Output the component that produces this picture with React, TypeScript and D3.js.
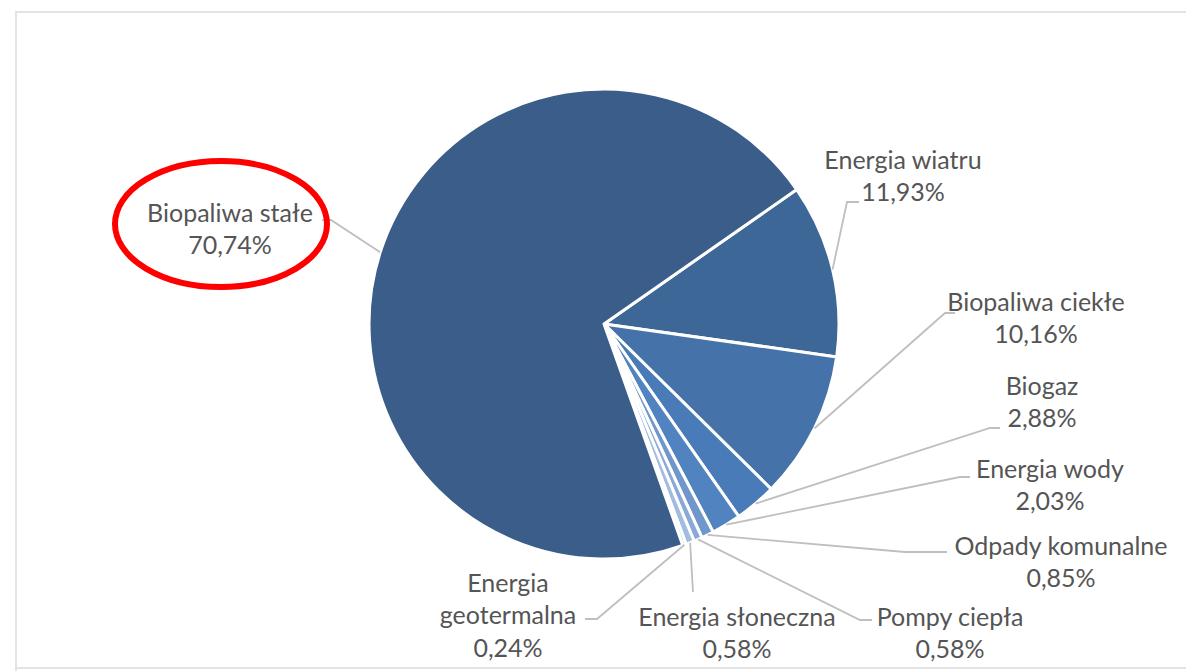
import React from "react";
import * as d3 from "d3";

// share of renewable energy sources (%)
const categories = [
  "Energia wiatru",
  "Biopaliwa ciekłe",
  "Biogaz",
  "Energia wody",
  "Odpady komunalne",
  "Pompy ciepła",
  "Energia słoneczna",
  "Energia geotermalna",
  "Biopaliwa stałe",
];
const values = [11.93, 10.16, 2.88, 2.03, 0.85, 0.58, 0.58, 0.24, 70.74];
const colors = [
  "#3d6797",
  "#4573a9",
  "#497bb8",
  "#5183c0",
  "#6f97cb",
  "#8aa9d6",
  "#a2bce0",
  "#bacde8",
  "#3a5e89",
];

// label layout: text lines, center x, first line middle y, elbow, end of leader
const labelLines = [
  ["Energia wiatru"],
  ["Biopaliwa ciekłe"],
  ["Biogaz"],
  ["Energia wody"],
  ["Odpady komunalne"],
  ["Pompy ciepła"],
  ["Energia słoneczna"],
  ["Energia", "geotermalna"],
  ["Biopaliwa stałe"],
];
const labelLayout = [
  { x: 903, y: 160, ex: 847, ey: 202, endX: 859 },
  { x: 1036, y: 302, ex: 945, ey: 313, endX: 955 },
  { x: 1042, y: 386, ex: 990, ey: 428, endX: 1000 },
  { x: 1050, y: 469, ex: 960, ey: 477, endX: 970 },
  { x: 1061, y: 546, ex: 905, ey: 552, endX: 947 },
  { x: 950, y: 617, ex: 860, ey: 620, endX: 872 },
  { x: 737, y: 617, ex: 693, ey: 592, endX: 693 },
  { x: 508, y: 583, ex: 597, ey: 619, endX: 585 },
  { x: 230, y: 213, ex: 331, ey: 220, endX: 322 },
];

const W = 1186;
const H = 671;
const cx = 604;
const cy = 324;
const R = 235;
const lineH = 32.5;

const fmt = (v: number) => v.toFixed(2).replace(".", ",") + "%";

export default function App() {
  const pie = d3
    .pie<number>()
    .sort(null)
    .value((d) => d)
    .startAngle((55.1 * Math.PI) / 180)
    .endAngle((55.1 * Math.PI) / 180 + 2 * Math.PI);
  const arcs = pie(values);
  const arc = d3.arc<d3.PieArcDatum<number>>().innerRadius(0).outerRadius(R);

  return (
    <svg
      width={W}
      height={H}
      style={{ position: "fixed", left: 0, top: 0, background: "#fff" }}
      fontFamily="Lato, 'Open Sans', sans-serif"
    >
      {/* frame */}
      <path
        d={`M16,${H} L16,12 L${W},12`}
        fill="none"
        stroke="#e3e3e3"
        strokeWidth={2}
      />
      <line x1={16} x2={W} y1={668} y2={668} stroke="#e3e3e3" strokeWidth={2} />

      <g transform={`translate(${cx},${cy})`}>
        {arcs.map((a, i) => (
          <path
            key={categories[i]}
            d={arc(a) || ""}
            fill={colors[i]}
            stroke="#fff"
            strokeWidth={3}
            strokeLinejoin="round"
          />
        ))}
      </g>

      {/* leader lines */}
      {arcs.map((a, i) => {
        const mid = (a.startAngle + a.endAngle) / 2;
        const px = cx + R * Math.sin(mid);
        const py = cy - R * Math.cos(mid);
        const L = labelLayout[i];
        return (
          <polyline
            key={"l" + i}
            points={`${px},${py} ${L.ex},${L.ey} ${L.endX},${L.ey}`}
            fill="none"
            stroke="#bfbfbf"
            strokeWidth={1.8}
          />
        );
      })}

      {/* labels */}
      {labelLayout.map((L, i) => {
        const lines = [...labelLines[i], fmt(values[i])];
        return (
          <text
            key={"t" + i}
            x={L.x}
            textAnchor="middle"
            fill="#555555"
            fontSize={25}
          >
            {lines.map((s, j) => (
              <tspan key={j} x={L.x} y={L.y + j * lineH} dy="0.35em">
                {s}
              </tspan>
            ))}
          </text>
        );
      })}

      {/* highlight */}
      <ellipse
        cx={221}
        cy={224}
        rx={106}
        ry={63}
        fill="none"
        stroke="#ff0000"
        strokeWidth={6}
      />
    </svg>
  );
}
